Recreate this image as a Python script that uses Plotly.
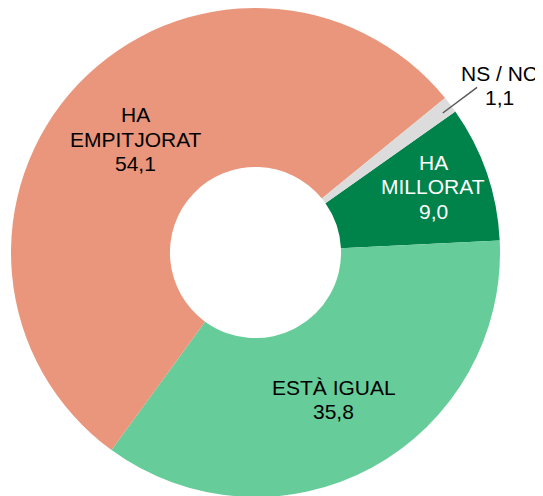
import math
import plotly.graph_objects as go

labels = ["HA MILLORAT", "ESTÀ IGUAL", "HA EMPITJORAT", "NS / NC"]
label_lines = [["HA", "MILLORAT"], ["ESTÀ IGUAL"], ["HA", "EMPITJORAT"], ["NS / NC"]]
values = [9.0, 35.8, 54.1, 1.1]
colors = ["#00834A", "#66CC99", "#E9967C", "#DCDCDC"]
text_colors = ["white", "black", "black", "black"]
label_radius = [0.776, 0.681, 0.674, 1.21]   # fraction of outer radius
label_angle_shift = [-1.3, 0.3, 0.0, 2.8]     # degrees

W, H = 543, 496
OFF = 8            # page body margin in the browser
CX, CY, R = 255.5, 252.5, 244.5   # wanted pie geometry in the window (px)
rotation = 54.8
FONT = "Liberation Sans, Arial, sans-serif"
FS = 21
PITCH = 24.5

# figure-pixel geometry
cx, cy = CX - OFF, CY - OFF
dom_x = [(cx - R) / W, (cx + R) / W]
dom_y = [max(0.0, 1 - (cy + R) / H), min(1.0, 1 - (cy - R) / H)]

fig = go.Figure(go.Pie(
    labels=labels, values=values, sort=False, direction="clockwise",
    rotation=rotation, hole=0.35, textinfo="none",
    marker=dict(colors=colors, line=dict(width=0)),
    domain=dict(x=dom_x, y=dom_y), showlegend=False,
))

def pt(ang_deg, frac):
    a = math.radians(ang_deg)
    return cx + frac * R * math.sin(a), cy - frac * R * math.cos(a)

total = sum(values)
start = rotation
for lines, v, tc, fr, sh in zip(label_lines, values, text_colors,
                                label_radius, label_angle_shift):
    span = v / total * 360
    mid = start + span / 2
    start += span
    px, py = pt(mid + sh, fr)
    all_lines = lines + [f"{v:.1f}".replace(".", ",")]
    n = len(all_lines)
    for i, t in enumerate(all_lines):
        ly = py + (i - (n - 1) / 2) * PITCH
        fig.add_annotation(x=px / W, y=1 - ly / H, xref="paper", yref="paper",
                           text=t, showarrow=False, xanchor="center",
                           yanchor="middle",
                           font=dict(color=tc, size=FS, family=FONT))
    if lines[0] == "NS / NC":
        x0, y0 = pt(mid + 0.5, 0.955)
        x1, y1 = pt(mid + 0.5, 1.13)
        fig.add_shape(type="line", xref="paper", yref="paper",
                      x0=x0 / W, y0=1 - y0 / H, x1=x1 / W, y1=1 - y1 / H,
                      line=dict(color="#595959", width=1.5))

fig.update_layout(width=W, height=H, margin=dict(l=0, r=0, t=0, b=0),
                  paper_bgcolor="white", plot_bgcolor="white",
                  font=dict(family=FONT))
fig.write_html("out.html")
